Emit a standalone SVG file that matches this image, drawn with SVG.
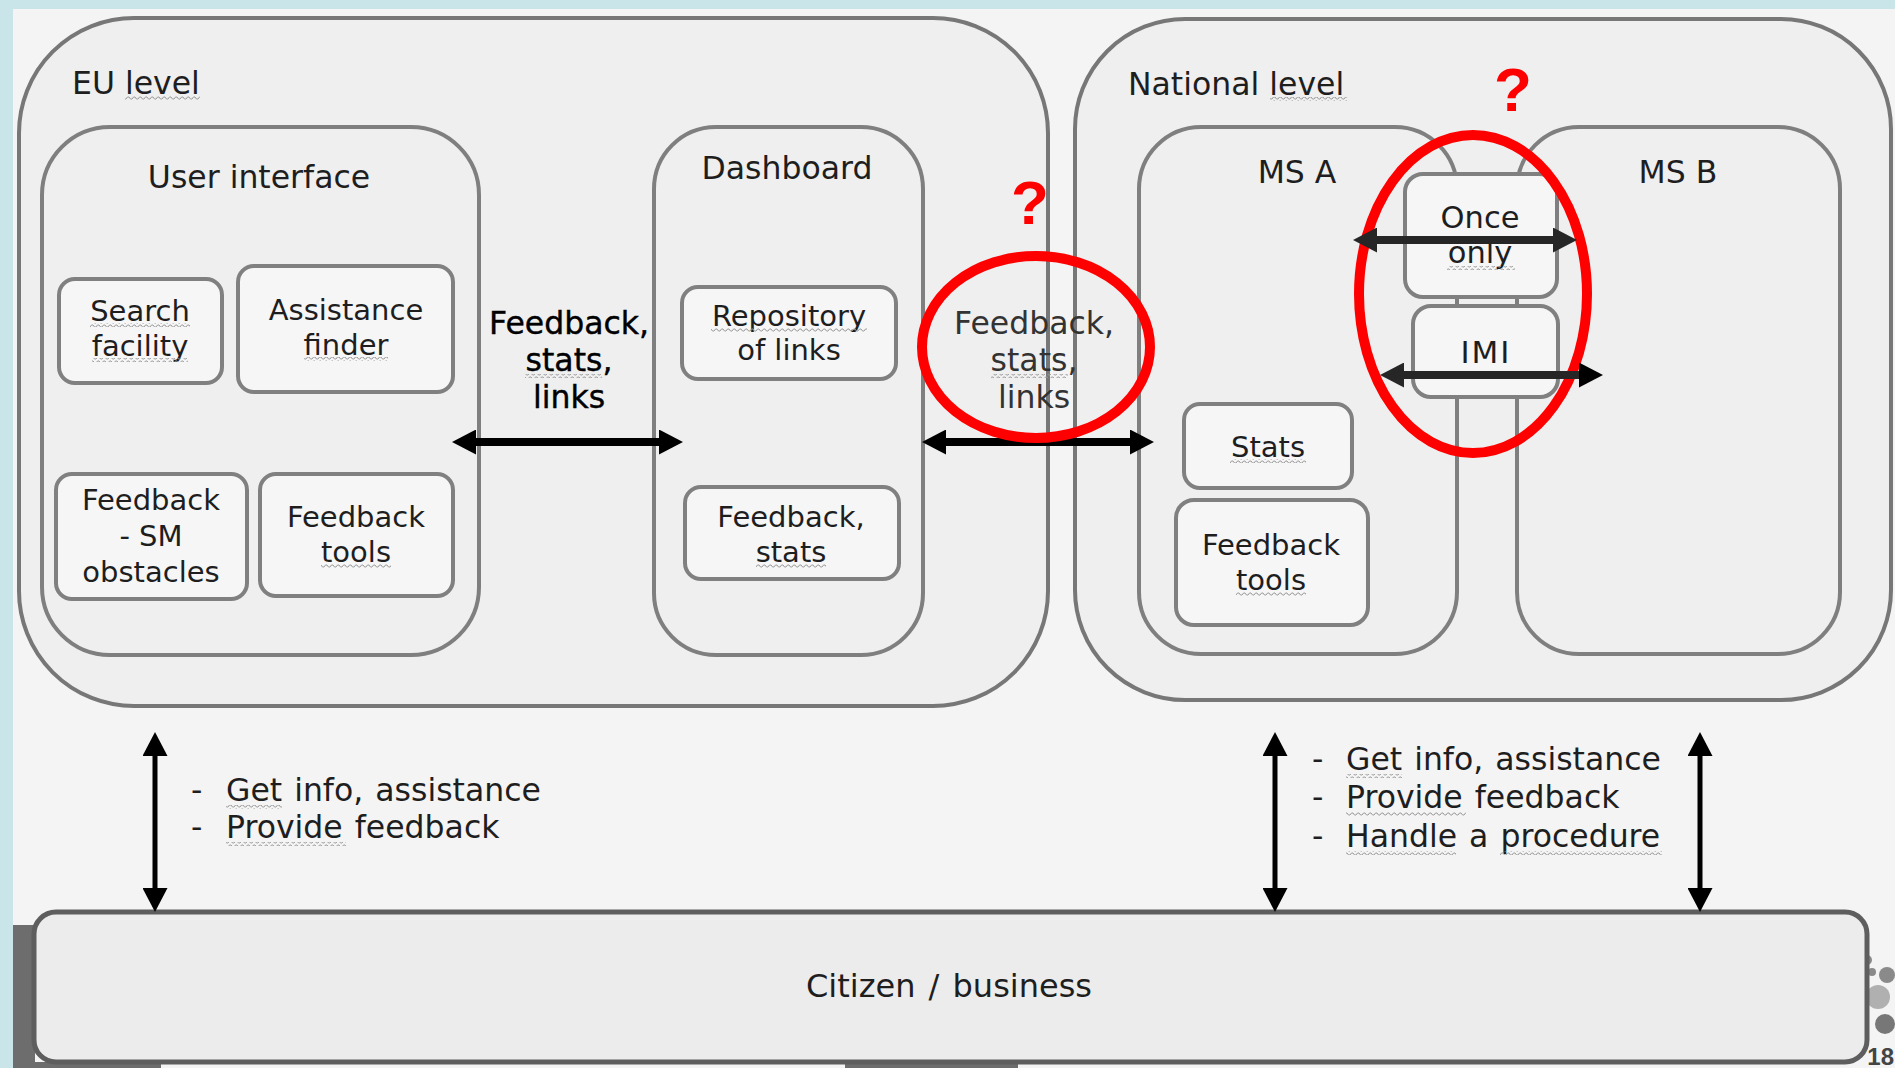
<svg xmlns="http://www.w3.org/2000/svg" width="1895" height="1068" viewBox="0 0 1895 1068">
<defs>
<style>
text{font-family:"DejaVu Sans","Verdana",sans-serif;fill:#1e1e1e}
.hdr{font-size:31.5px}
.in{font-size:29px;text-anchor:middle}
.mid{text-anchor:middle}
.lbl{font-size:31.5px;text-anchor:middle}
.blt{font-size:31.5px;word-spacing:2px}
.cont{fill:#efefef;stroke:#777;stroke-width:4}
.sub{fill:#efefef;stroke:#7f7f7f;stroke-width:4}
.box{fill:#f6f6f6;stroke:#808080;stroke-width:4}
.q{font-family:"Liberation Sans",Arial,sans-serif;font-weight:bold;font-size:62px;fill:#ff0000;text-anchor:middle}
.red{fill:none;stroke:#ff0000;stroke-width:10}
.thick{stroke:#000;stroke-width:8;fill:none}
.dark{stroke:#262626;stroke-width:8;fill:none}
.thin{stroke:#000;stroke-width:5;fill:none}
.wavy{fill:url(#wv)}
</style>
<marker id="ah" viewBox="0 0 24 25" markerWidth="24" markerHeight="25" refX="2" refY="12.5" markerUnits="userSpaceOnUse" orient="auto-start-reverse">
<path d="M0,0 L24,12.5 L0,25 z" fill="#000"/>
</marker>
<marker id="ahg" viewBox="0 0 24 25" markerWidth="24" markerHeight="25" refX="2" refY="12.5" markerUnits="userSpaceOnUse" orient="auto-start-reverse">
<path d="M0,0 L24,12.5 L0,25 z" fill="#262626"/>
</marker>
<pattern id="wv" width="6" height="4" patternUnits="userSpaceOnUse">
<path d="M0,3 L1.5,1 L3,1 L4.5,3 L6,3" fill="none" stroke="#9a9a9a" stroke-width="1"/>
</pattern>
</defs>

<!-- background -->
<rect x="0" y="0" width="1895" height="1068" fill="#c9e5e9"/>
<rect x="13" y="9" width="1882" height="1059" fill="#f4f4f4"/>
<rect x="13" y="925" width="22" height="143" fill="#6d6d6d"/>
<rect x="13" y="1062" width="148" height="6" fill="#6d6d6d"/>
<rect x="845" y="1062" width="173" height="6" fill="#6d6d6d"/>
<g id="logo" fill="#8a8a8a">
<circle cx="1867" cy="960" r="5"/>
<circle cx="1872" cy="972" r="4"/>
<circle cx="1887" cy="975" r="8"/>
<circle cx="1878" cy="997" r="12" fill="#b0b0b0"/>
<circle cx="1885" cy="1024" r="10" fill="#777"/>
</g>

<!-- EU level -->
<g id="eu-level">
<rect class="cont" x="19" y="18" width="1029" height="688" rx="115" ry="115"/>
<text class="hdr" x="72" y="94">EU level</text>
<rect class="wavy" x="125" y="96" width="75" height="4"/>
</g>
<g id="user-interface">
<rect class="sub" x="42" y="127" width="437" height="528" rx="68" ry="68"/>
<text class="hdr mid" x="259" y="188">User interface</text>
</g>
<g id="dashboard">
<rect class="sub" x="654" y="127" width="269" height="528" rx="62" ry="62"/>
<text class="hdr mid" x="787" y="179">Dashboard</text>
</g>
<g id="search-facility">
<rect class="box" x="59" y="279" width="163" height="104" rx="16" ry="16"/>
<text class="in" x="140" y="321">Search</text>
<text class="in" x="140" y="356">facility</text>
<rect class="wavy" x="90" y="323" width="100" height="4"/>
<rect class="wavy" x="92" y="358" width="96" height="4"/>
</g>
<g id="assistance-finder">
<rect class="box" x="238" y="266" width="215" height="126" rx="16" ry="16"/>
<text class="in" x="346" y="320">Assistance</text>
<text class="in" x="346" y="355">finder</text>
<rect class="wavy" x="304" y="357" width="84" height="4"/>
</g>
<g id="feedback-sm">
<rect class="box" x="56" y="474" width="191" height="125" rx="16" ry="16"/>
<text class="in" x="151" y="510">Feedback</text>
<text class="in" x="151" y="546">- SM</text>
<text class="in" x="151" y="582">obstacles</text>
</g>
<g id="feedback-tools-eu">
<rect class="box" x="260" y="474" width="193" height="122" rx="16" ry="16"/>
<text class="in" x="356" y="527">Feedback</text>
<text class="in" x="356" y="562">tools</text>
<rect class="wavy" x="321" y="564" width="70" height="4"/>
</g>
<g id="repository">
<rect class="box" x="682" y="287" width="214" height="92" rx="16" ry="16"/>
<text class="in" x="789" y="326">Repository</text>
<text class="in" x="789" y="360">of links</text>
<rect class="wavy" x="711" y="328" width="156" height="4"/>
</g>
<g id="feedback-stats">
<rect class="box" x="685" y="487" width="214" height="92" rx="16" ry="16"/>
<text class="in" x="791" y="527">Feedback,</text>
<text class="in" x="791" y="562">stats</text>
<rect class="wavy" x="756" y="564" width="70" height="4"/>
</g>

<!-- National level -->
<g id="national-level">
<rect class="cont" x="1075" y="19" width="816" height="681" rx="110" ry="110"/>
<text class="hdr" x="1128" y="95">National level</text>
<rect class="wavy" x="1270" y="97" width="77" height="4"/>
</g>
<g id="ms-a">
<rect class="sub" x="1139" y="127" width="318" height="527" rx="62" ry="62"/>
<text class="hdr mid" x="1297" y="183">MS A</text>
</g>
<g id="ms-b">
<rect class="sub" x="1517" y="127" width="323" height="527" rx="62" ry="62"/>
<text class="hdr mid" x="1678" y="183">MS B</text>
</g>
<g id="once-only">
<rect class="box" x="1405" y="174" width="152" height="123" rx="18" ry="18"/>
<text class="in" x="1480" y="228" style="font-size:30.5px">Once</text>
<text class="in" x="1480" y="263" style="font-size:30.5px">only</text>
<rect class="wavy" x="1447" y="266" width="68" height="4"/>
</g>
<g id="imi">
<rect class="box" x="1413" y="306" width="145" height="91" rx="18" ry="18"/>
<text class="in" x="1486" y="363" style="font-size:31px;letter-spacing:2px">IMI</text>
</g>
<g id="stats">
<rect class="box" x="1184" y="404" width="168" height="84" rx="16" ry="16"/>
<text class="in" x="1268" y="457">Stats</text>
<rect class="wavy" x="1230" y="459" width="76" height="4"/>
</g>
<g id="feedback-tools-nat">
<rect class="box" x="1176" y="500" width="192" height="125" rx="18" ry="18"/>
<text class="in" x="1271" y="555">Feedback</text>
<text class="in" x="1271" y="590">tools</text>
<rect class="wavy" x="1236" y="592" width="70" height="4"/>
</g>

<!-- Citizen / business -->
<g id="citizen">
<rect x="34" y="912" width="1833" height="150" rx="22" ry="22" fill="#ececec" stroke="#5e5e5e" stroke-width="5"/>
<text class="mid" x="949" y="997" style="font-size:32px;word-spacing:3px">Citizen / business</text>
</g>
<text x="1894" y="1065" style="font-family:'Liberation Sans',Arial,sans-serif;font-weight:bold;font-size:24px;fill:#444;text-anchor:end">18</text>

<!-- connectors -->
<g id="connectors">
<line class="thick" x1="474" y1="442" x2="661" y2="442" marker-start="url(#ah)" marker-end="url(#ah)"/>
<line class="thick" x1="944" y1="442" x2="1132" y2="442" marker-start="url(#ah)" marker-end="url(#ah)"/>
<line class="thin" x1="155" y1="754" x2="155" y2="890" marker-start="url(#ah)" marker-end="url(#ah)"/>
<line class="thin" x1="1275" y1="754" x2="1275" y2="890" marker-start="url(#ah)" marker-end="url(#ah)"/>
<line class="thin" x1="1700" y1="754" x2="1700" y2="890" marker-start="url(#ah)" marker-end="url(#ah)"/>
</g>

<!-- connector labels -->
<g id="labels">
<text class="lbl" x="569" y="334" style="fill:#000;stroke:#000;stroke-width:0.4">Feedback,</text>
<text class="lbl" x="569" y="371" style="fill:#000;stroke:#000;stroke-width:0.4">stats,</text>
<text class="lbl" x="569" y="408" style="fill:#000;stroke:#000;stroke-width:0.4">links</text>
<rect class="wavy" x="525" y="374" width="77" height="4"/>
<text class="lbl" x="1034" y="334" style="fill:#333">Feedback,</text>
<text class="lbl" x="1034" y="371" style="fill:#333">stats,</text>
<text class="lbl" x="1034" y="408" style="fill:#333">links</text>
<rect class="wavy" x="991" y="374" width="77" height="4"/>
<text class="blt" x="191" y="801">-</text>
<text class="blt" x="226" y="801">Get info, assistance</text>
<text class="blt" x="191" y="838">-</text>
<text class="blt" x="226" y="838">Provide feedback</text>
<rect class="wavy" x="226" y="805" width="56" height="4"/>
<rect class="wavy" x="226" y="842" width="120" height="4"/>
<text class="blt" x="1312" y="770">-</text>
<text class="blt" x="1346" y="770">Get info, assistance</text>
<text class="blt" x="1312" y="808">-</text>
<text class="blt" x="1346" y="808">Provide feedback</text>
<text class="blt" x="1312" y="847">-</text>
<text class="blt" x="1346" y="847">Handle a procedure</text>
<rect class="wavy" x="1346" y="774" width="56" height="4"/>
<rect class="wavy" x="1346" y="812" width="120" height="4"/>
<rect class="wavy" x="1346" y="851" width="110" height="4"/>
<rect class="wavy" x="1500" y="851" width="162" height="4"/>
</g>

<!-- annotations -->
<g id="annotations">
<ellipse class="red" cx="1036" cy="347" rx="114" ry="91"/>
<ellipse class="red" cx="1473" cy="294" rx="114" ry="159"/>
<text class="q" x="1030" y="224">?</text>
<text class="q" x="1513" y="111">?</text>
</g>
<g id="national-connectors">
<line class="dark" x1="1375" y1="240" x2="1555" y2="240" marker-start="url(#ahg)" marker-end="url(#ahg)"/>
<line class="dark" x1="1402" y1="375" x2="1581" y2="375" marker-start="url(#ahg)" marker-end="url(#ah)"/>
</g>
</svg>
